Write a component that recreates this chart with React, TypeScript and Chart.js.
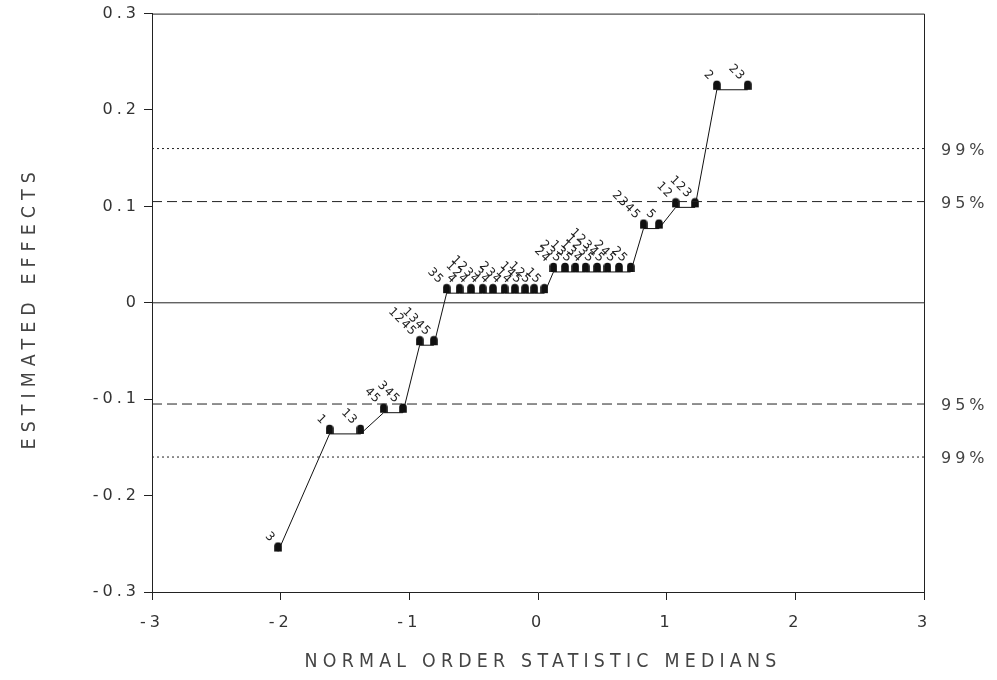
import { useEffect, useRef } from 'react';
import { Chart, registerables } from 'chart.js';

Chart.register(...registerables);

// Normal order statistic medians (x) for the 31 effects, sorted by effect size
const medians = [
  -2.02, -1.62, -1.38, -1.2, -1.05, -0.92, -0.81,
  -0.71, -0.61, -0.52, -0.43, -0.35, -0.26, -0.18, -0.1, -0.03, 0.05,
  0.12, 0.21, 0.29, 0.37, 0.46, 0.54, 0.63, 0.72,
  0.82, 0.94, 1.07, 1.22, 1.39, 1.63,
];

// Estimated effects (y)
const effects = [
  -0.258, -0.136, -0.136, -0.114, -0.114, -0.044, -0.044,
  0.01, 0.01, 0.01, 0.01, 0.01, 0.01, 0.01, 0.01, 0.01, 0.01,
  0.032, 0.032, 0.032, 0.032, 0.032, 0.032, 0.032, 0.032,
  0.077, 0.077, 0.099, 0.099, 0.221, 0.221,
];

// Factor interaction names written beside each point
const effectNames = [
  '3', '1', '13', '45', '345', '1245', '1345',
  '35', '4', '124', '1234', '34', '234', '14', '145', '125', '15',
  '24', '235', '135', '134', '1235', '12345', '245', '25',
  '2345', '5', '12', '123', '2', '23',
];

// Significance limits
const limit95 = 0.105;
const limit99 = 0.16;

const xTicks = [-3, -2, -1, 0, 1, 2, 3];
const yTicks = [-0.3, -0.2, -0.1, 0, 0.1, 0.2, 0.3];

const xTitle = 'NORMAL ORDER STATISTIC MEDIANS';
const yTitle = 'ESTIMATED EFFECTS';

const fmt = (v: number) => {
  const r = Math.round(v * 10) / 10;
  if (r === 0) return '0';
  return (r < 0 ? '-' : '') + String(Math.abs(r));
};

function makeMarker() {
  const c = document.createElement('canvas');
  c.width = 8;
  c.height = 20;
  const g = c.getContext('2d')!;
  g.fillStyle = '#111';
  g.beginPath();
  g.arc(4, 4.6, 3.8, Math.PI, 0);
  g.lineTo(7.8, 10);
  g.lineTo(0.2, 10);
  g.closePath();
  g.fill();
  return c;
}

const decorations = {
  id: 'decorations',
  beforeDraw(chart: any) {
    chart.ctx.letterSpacing = '4px';
  },
  afterDatasetsDraw(chart: any) {
    const { ctx, scales } = chart;
    ctx.save();
    ctx.letterSpacing = '1px';
    ctx.font = '12px "DejaVu Sans"';
    ctx.fillStyle = '#222';
    ctx.textAlign = 'right';
    ctx.textBaseline = 'middle';
    effectNames.forEach((name, i) => {
      const px = scales.x.getPixelForValue(medians[i]);
      const py = scales.y.getPixelForValue(effects[i]);
      ctx.save();
      ctx.translate(px - 5, py - 11);
      ctx.rotate(Math.PI / 4);
      ctx.fillText(name, 0, 0);
      ctx.restore();
    });
    ctx.restore();
  },
  afterDraw(chart: any) {
    const { ctx, chartArea, scales } = chart;
    const { left, right, top, bottom } = chartArea;
    ctx.save();
    ctx.strokeStyle = '#222';
    ctx.lineWidth = 1;
    ctx.beginPath();
    ctx.moveTo(left, top + 0.5);
    ctx.lineTo(right + 0.5, top + 0.5);
    ctx.lineTo(right + 0.5, bottom);
    ctx.stroke();

    // limit labels at the right
    ctx.font = '16px "DejaVu Sans"';
    ctx.letterSpacing = '4px';
    ctx.fillStyle = '#444';
    ctx.textAlign = 'left';
    ctx.textBaseline = 'middle';
    const limits: [number, string][] = [
      [limit99, '99%'], [limit95, '95%'], [-limit95, '95%'], [-limit99, '99%'],
    ];
    limits.forEach(([v, t]) => {
      ctx.fillText(t, right + 17, scales.y.getPixelForValue(v) + 2);
    });

    // axis titles
    ctx.font = '20px "DejaVu Sans"';
    ctx.fillStyle = '#444';
    ctx.textAlign = 'center';
    ctx.textBaseline = 'middle';
    ctx.save();
    ctx.letterSpacing = '6px';
    ctx.translate((left + right) / 2 + 5, 662);
    ctx.scale(0.87, 1);
    ctx.fillText(xTitle, 0, 0);
    ctx.restore();
    ctx.save();
    ctx.letterSpacing = '7px';
    ctx.translate(30, (top + bottom) / 2 + 5);
    ctx.rotate(-Math.PI / 2);
    ctx.scale(0.87, 1);
    ctx.fillText(yTitle, 0, 0);
    ctx.restore();
    ctx.restore();
    ctx.letterSpacing = '0px';
  },
};

export default function App() {
  const ref = useRef<HTMLCanvasElement>(null);

  useEffect(() => {
    if (!ref.current) return;
    const marker = makeMarker();
    const hline = (v: number, dash: number[]) => ({
      data: [{ x: xTicks[0], y: v }, { x: xTicks[xTicks.length - 1], y: v }],
      showLine: true,
      borderColor: '#222',
      borderWidth: 1,
      borderDash: dash,
      pointRadius: 0,
    });
    const chart = new Chart(ref.current, {
      type: 'scatter',
      data: {
        datasets: [
          hline(0, []),
          hline(limit95, [10, 5]),
          hline(-limit95, [10, 5]),
          hline(limit99, [2, 3]),
          hline(-limit99, [2, 3]),
          {
            data: medians.map((m, i) => ({ x: m, y: effects[i] })),
            showLine: true,
            borderColor: '#111',
            borderWidth: 1,
            pointStyle: marker as any,
            pointRadius: 4,
          },
        ] as any,
      },
      options: {
        animation: false,
        responsive: false,
        layout: { padding: { top: 13, right: 73, left: 0, bottom: 0 } },
        plugins: { legend: { display: false }, tooltip: { enabled: false } },
        scales: {
          x: {
            type: 'linear',
            min: xTicks[0],
            max: xTicks[xTicks.length - 1],
            afterBuildTicks: (s: any) => { s.ticks = xTicks.map((v) => ({ value: v })); },
            afterFit: (s: any) => { s.height = 88; },
            ticks: {
              callback: (v: any) => fmt(Number(v)),
              font: { family: 'DejaVu Sans', size: 16 },
              color: '#333',
              padding: 13,
              maxRotation: 0,
            },
            grid: { drawOnChartArea: false, tickLength: 8, color: '#222' },
            border: { color: '#222' },
          },
          y: {
            type: 'linear',
            min: yTicks[0],
            max: yTicks[yTicks.length - 1],
            afterBuildTicks: (s: any) => { s.ticks = yTicks.map((v) => ({ value: v })); },
            afterFit: (s: any) => { s.width = 152; },
            ticks: {
              callback: (v: any) => fmt(Number(v)),
              font: { family: 'DejaVu Sans', size: 16 },
              color: '#333',
              padding: 4,
            },
            grid: { drawOnChartArea: false, tickLength: 8, color: '#222' },
            border: { color: '#222' },
          },
        },
      },
      plugins: [decorations],
    });
    return () => chart.destroy();
  }, []);

  return (
    <div style={{ position: 'absolute', left: 0, top: 0, width: 997, height: 680, background: '#fff' }}>
      <canvas ref={ref} width={997} height={680} />
    </div>
  );
}
